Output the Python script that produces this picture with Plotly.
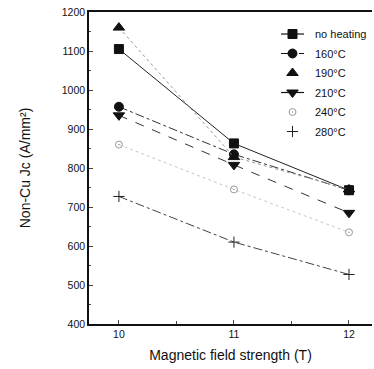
import plotly.graph_objects as go

field = [10, 11, 12]
labels = ["no heating", "160°C", "190°C", "210°C", "240°C", "280°C"]
no_heating = [1105, 863, 743]
t160 = [957, 835, 743]
t190 = [1160, 828, 745]
t210 = [935, 808, 685]
t240 = [860, 745, 635]
t280 = [727, 610, 527]

series = [no_heating, t160, t190, t210, t240, t280]
symbols = ["square", "circle", "triangle-up", "triangle-down", "circle-open-dot", "cross-thin"]
colors = ["#111111", "#111111", "#111111", "#111111", "#9a9a9a", "#222222"]
line_colors = ["#222222", "#333333", "#9a9a9a", "#333333", "#c8c8c8", "#444444"]
dashes = ["solid", "dashdot", "dot", "dash", "dot", "dashdot"]
sizes = [9, 9, 10, 10, 7, 8]
# legend sample line styles as drawn in the reference key
legend_dashes = ["solid", "dash", None, "solid", None, None]

W, H = 374, 369
ML, MR, MT, MB = 89, 2, 12, 45

fig = go.Figure()
for lab, ys, sym, c, lc, d, s in zip(labels, series, symbols, colors, line_colors, dashes, sizes):
    fig.add_trace(go.Scatter(
        x=field, y=ys, name=lab, mode="lines+markers", showlegend=False,
        line=dict(color=lc, width=1, dash=d),
        marker=dict(symbol=sym, size=s, color=c, line=dict(color=c, width=1)),
    ))

# custom key on an overlay axis measured in pixels of the plot area
row0, row_step = 34, 19.5
for i, (lab, sym, c, s, ld) in enumerate(zip(labels, symbols, colors, sizes, legend_dashes)):
    yy = row0 + i * row_step
    if ld is not None:
        fig.add_trace(go.Scatter(x=[281, 304], y=[yy, yy], mode="lines", xaxis="x2", yaxis="y2",
                                 showlegend=False, hoverinfo="skip",
                                 line=dict(color="#111111", width=1.2, dash=ld)))
    fig.add_trace(go.Scatter(x=[292.5], y=[yy], mode="markers", xaxis="x2", yaxis="y2",
                             showlegend=False, hoverinfo="skip",
                             marker=dict(symbol=sym, size=s, color=c, line=dict(color=c, width=1))))
    fig.add_annotation(x=313, y=yy, xref="x2", yref="y2", text=lab, showarrow=False,
                       xanchor="left", yanchor="middle", font=dict(size=11, color="#111111"))

fig.update_layout(
    width=W, height=H,
    margin=dict(l=ML, r=MR, t=MT, b=MB),
    paper_bgcolor="white", plot_bgcolor="white",
    font=dict(family="Liberation Sans, Arial, sans-serif", color="#111111", size=10.5),
    showlegend=False,
    xaxis=dict(
        range=[9.74, 12.2], tickvals=[10, 11, 12], ticks="inside", ticklen=4,
        minor=dict(tickvals=[10.5, 11.5], ticks="inside", ticklen=3),
        showline=True, linecolor="#111111", linewidth=1.5, mirror=True,
        showgrid=False, zeroline=False,
        title=dict(text="Magnetic field strength (T)", font=dict(size=14), standoff=11),
    ),
    yaxis=dict(
        range=[400, 1200], tickvals=list(range(400, 1201, 100)), ticks="inside", ticklen=4,
        minor=dict(dtick=50, ticks="inside", ticklen=2),
        showline=True, linecolor="#111111", linewidth=1.5,
        showgrid=False, zeroline=False,
        title=dict(text="Non-Cu Jc (A/mm²)", font=dict(size=14), standoff=28),
    ),
    xaxis2=dict(overlaying="x", anchor="y2", range=[ML, W - MR], visible=False, fixedrange=True),
    yaxis2=dict(overlaying="y", anchor="x2", range=[H - MB, MT], visible=False, fixedrange=True),
)
fig.write_html("out.html", config={"displayModeBar": False})
